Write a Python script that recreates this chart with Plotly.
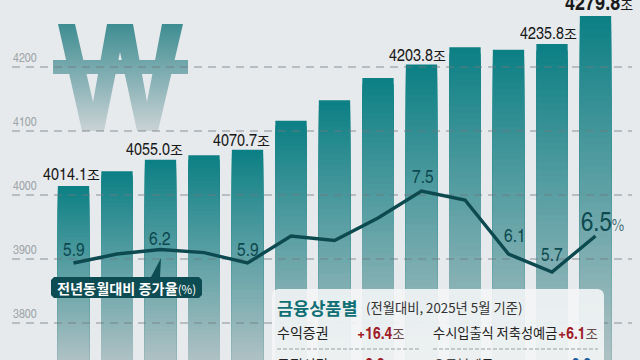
import plotly.graph_objects as go

months = ["2024-05","2024-06","2024-07","2024-08","2024-09","2024-10","2024-11","2024-12","2025-01","2025-02","2025-03","2025-04","2025-05"]
balance = [4014.1,4037,4055.0,4062,4070.7,4116,4148,4183,4203.8,4231,4227,4235.8,4279.8]
growth = [5.9,6.1,6.2,6.13,5.9,6.5,6.4,6.9,7.5,7.3,6.1,5.7,6.5]
ticks = [3800,3900,4000,4100,4200]

BG = "#e7eaec"
NARROW = "'TeX Gyre Heros Cn', 'Sofia Sans Condensed', 'Liberation Sans', 'Noto Sans CJK KR'"
KR = "Noto Sans CJK KR, Noto Sans"
DARK = "#0d4a50"

def px2x(px): return (px - 73.5) / 43.5
def px2y(py): return 4000 + (195 - py) / 0.64
def py2g(py): return 5.9 + (263 - py) / 45

xr = [px2x(0), px2x(640)]
yr = [px2y(360), px2y(0)]
y2r = [py2g(360), py2g(0)]
BASE = yr[0]

def mix(a, b, t):
    return "rgb(%d,%d,%d)" % tuple(round(a[i] + (b[i] - a[i]) * t) for i in range(3))

fig = go.Figure()

N = 48
TOP, BOT = (13, 128, 133), (176, 194, 197)
idx = list(range(len(balance)))
for k in range(N):
    t = k / N
    fig.add_trace(go.Bar(x=idx, y=[BASE + (v - BASE) * (1 - t) for v in balance], width=0.72,
                         marker=dict(color=mix(TOP, BOT, t), line_width=0), hoverinfo="skip", showlegend=False))

grad = dict(type="vertical", start=px2y(24), stop=px2y(132),
            colorscale=[[0, "#3e8d92"], [1, "#cbd3d6"]])
W = [(58,24),(75,24),(93,102),(107,24),(133,24),(147,102),(162,24),(183,24),(158,131),(137,131),(120,52),(104,131),(82,131),(58,24)]
B = [(53,60),(188,60),(188,74),(53,74),(53,60)]
for poly in (W, B):
    fig.add_trace(go.Scatter(x=[px2x(p[0]) for p in poly], y=[px2y(p[1]) for p in poly], mode="none",
                             fill="toself", fillgradient=grad, hoverinfo="skip", showlegend=False))

for t in ticks:
    fig.add_trace(go.Scatter(x=[px2x(12), px2x(632)], y=[t, t], mode="lines",
                             line=dict(color="#6f797d", width=0.8, dash="8px,6px"), hoverinfo="skip", showlegend=False))

fig.add_trace(go.Scatter(x=idx, y=growth, yaxis="y2", mode="lines",
                         line=dict(color=DARK, width=3.4), hoverinfo="skip", showlegend=False))

ann = []
def text(px, py, s, size=13, color="#222", family=NARROW, anchor="center"):
    ann.append(dict(x=px/640, y=1-py/360, xref="paper", yref="paper", text=s, showarrow=False,
                    font=dict(size=size, color=color, family=family), xanchor=anchor, yanchor="middle"))

for t in ticks:
    ann.append(dict(x=px2x(11), y=t, text=str(t), showarrow=False, xanchor="left", yanchor="bottom", yshift=-1,
                    font=dict(size=13, color="#9ea5a9", family=NARROW)))

KSPAN = "<span style=\"font-size:14px;font-family:'Noto Sans CJK KR'\">조</span>"
labels = {0:(71,-14), 2:(154,-13), 4:(241,-12), 8:(417,-12), 11:(548,-13)}
for i, (px, dy) in labels.items():
    ann.append(dict(x=px2x(px), y=balance[i], text=f"{balance[i]:.1f}{KSPAN}",
                    showarrow=False, yshift=-dy-1, font=dict(size=17.5, color="#1a1a1a", family=NARROW)))
ann.append(dict(x=px2x(599), y=balance[12], showarrow=False, yshift=14,
                text=f"<b>{balance[12]:.1f}</b>{KSPAN}",
                font=dict(size=22, color="#1a1a1a", family=NARROW)))

gl = {0:(0,-15), 2:(-1,-13), 4:(0,-15), 8:(1,-16), 10:(6,-20), 11:(0,-19)}
for i, (dx, dy) in gl.items():
    ann.append(dict(x=i, y=growth[i], yref="y2", text=f"{growth[i]:.1f}", showarrow=False, xshift=dx, yshift=-dy,
                    font=dict(size=19, color=DARK, family=NARROW)))
ann.append(dict(x=12, y=growth[12], yref="y2", text=f"{growth[12]:.1f}<span style='font-size:17px;color:#3d6f75'>%</span>",
                showarrow=False, xshift=7, yshift=16, font=dict(size=27, color=DARK, family=NARROW)))

text(126, 288, "<b>전년동월대비 증가율</b><span style='font-size:11.5px'>(%)</span>", 14.2, "#ffffff", KR)

KRED = "<span style=\"color:#6b4a4a;font-size:13.5px;font-family:'Noto Sans CJK KR'\">조</span>"
KBLU = "<span style=\"color:#4a5f6b;font-size:13.5px;font-family:'Noto Sans CJK KR'\">조</span>"
text(275, 307, "<b>금융상품별</b>", 17.5, "#0f6f74", KR, "left")
text(364, 307, "(전월대비, 2025년 5월 기준)", 13.3, "#333", KR, "left")
text(275, 332, "수익증권", 14, "#222", KR, "left")
text(355, 332, f"<b>+16.4</b>{KRED}", 17, "#a01c26", NARROW, "left")
text(431, 332, "수시입출식 저축성예금", 13.2, "#222", KR, "left")
text(556, 332, f"<b>+6.1</b>{KRED}", 17, "#a01c26", NARROW, "left")
text(275, 364, "금전신탁", 14, "#222", KR, "left")
text(355, 363, f"<b>+8.8</b>{KRED}", 17, "#a01c26", NARROW, "left")
text(431, 364, "요구불예금", 13.2, "#222", KR, "left")
text(565, 363, f"<b>-0.8</b>{KBLU}", 17, "#1c5f9c", NARROW, "left")

def pth(points):
    return "M " + " L ".join(f"{x/640:.5f},{1-y/360:.5f}" for x, y in points) + " Z"

shapes = [
    dict(type="path", xref="paper", yref="paper", layer="above", line_width=0, fillcolor="rgba(243,245,246,0.9)",
         path=pth([(278,289),(598,289),(601,290),(603,292),(604,295),(604,360),(272,360),(272,295),(273,292),(275,290)])),
    dict(type="path", xref="paper", yref="paper", layer="above", line_width=0, fillcolor="#0d4c52",
         path=pth([(54,277),(151,277),(161,258),(160,277),(199,277),(202,280),(202,295),(199,298),(54,298),(51,295),(51,280)])),
    dict(type="line", xref="paper", yref="paper", x0=277/640, x1=420/640, y0=1-349/360, y1=1-349/360, layer="above",
         line=dict(color="#9aa3a6", width=1, dash="4px,2px")),
    dict(type="line", xref="paper", yref="paper", x0=433/640, x1=598/640, y0=1-349/360, y1=1-349/360, layer="above",
         line=dict(color="#9aa3a6", width=1, dash="4px,2px")),
]

fig.update_layout(
    width=640, height=360, margin=dict(l=0, r=0, t=0, b=0), autosize=False,
    paper_bgcolor=BG, plot_bgcolor=BG, barmode="overlay", showlegend=False,
    xaxis=dict(visible=False, range=xr, fixedrange=True),
    yaxis=dict(visible=False, range=yr, fixedrange=True),
    yaxis2=dict(visible=False, range=y2r, overlaying="y", fixedrange=True),
    annotations=ann, shapes=shapes,
)
fig.write_html("out.html", config=dict(displayModeBar=False),
               post_script="document.body.style.margin='0';document.documentElement.style.overflow='hidden';")
